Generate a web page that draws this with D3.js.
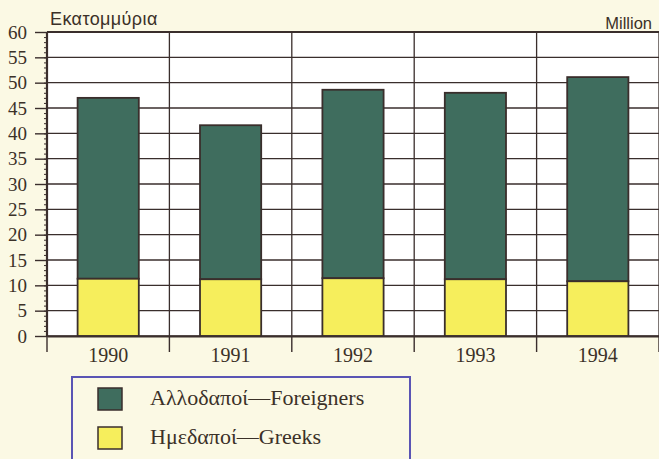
<!DOCTYPE html>
<html>
<head>
<meta charset="utf-8">
<script src="https://cdn.jsdelivr.net/npm/d3@7"></script>
<style>
  body { margin: 0; background: #fbf9e4; }
  svg { display: block; }
</style>
</head>
<body>
<script>
// data
var years = ["1990", "1991", "1992", "1993", "1994"];
var greeks = [11.3, 11.2, 11.4, 11.2, 10.8];
var foreigners = [35.7, 30.4, 37.2, 36.8, 40.3];
var yTicks = [0, 5, 10, 15, 20, 25, 30, 35, 40, 45, 50, 55, 60];
var legendLabels = ["Αλλοδαποί—Foreigners", "Ημεδαποί—Greeks"];

var W = 659, H = 459;
var pl = 47, pr = 659, pt = 32, pb = 336;
var green = "#3f6d5e", yellow = "#f6ee5c", ink = "#3a2e2c";
var serif = "'Liberation Serif', 'DejaVu Serif', serif";
var sans = "'Liberation Sans', Arial, sans-serif";

var svg = d3.select("body").append("svg")
    .attr("width", W).attr("height", H);

svg.append("rect").attr("width", W).attr("height", H).attr("fill", "#fbf9e4");

var x = d3.scaleBand().domain(years).range([pl, pr]).paddingInner(0).paddingOuter(0);
var y = d3.scaleLinear().domain([0, 60]).range([pb, pt]);

// plot background
svg.append("rect")
    .attr("x", pl).attr("y", pt)
    .attr("width", pr - pl).attr("height", pb - pt)
    .attr("fill", "#ffffff");

// horizontal gridlines
svg.selectAll(".hgrid").data(yTicks).enter().append("line")
    .attr("x1", pl).attr("x2", pr)
    .attr("y1", function (d) { return y(d); })
    .attr("y2", function (d) { return y(d); })
    .attr("stroke", ink).attr("stroke-width", 1.3);

// vertical gridlines at band boundaries
var bounds = years.map(function (d) { return x(d); }).concat([pr]);
svg.selectAll(".vgrid").data(bounds).enter().append("line")
    .attr("x1", function (d) { return d; }).attr("x2", function (d) { return d; })
    .attr("y1", pt).attr("y2", pb)
    .attr("stroke", ink).attr("stroke-width", 1.3);

// bars
var bw = x.bandwidth() * 0.5;
var stacks = years.map(function (d, i) {
    return { year: d, g: greeks[i], f: foreigners[i] };
});
var bars = svg.selectAll(".bar").data(stacks).enter().append("g");
bars.append("rect")
    .attr("x", function (d) { return x(d.year) + (x.bandwidth() - bw) / 2; })
    .attr("width", bw)
    .attr("y", function (d) { return y(d.g + d.f); })
    .attr("height", function (d) { return y(d.g) - y(d.g + d.f); })
    .attr("fill", green).attr("stroke", ink).attr("stroke-width", 1.8);
bars.append("rect")
    .attr("x", function (d) { return x(d.year) + (x.bandwidth() - bw) / 2; })
    .attr("width", bw)
    .attr("y", function (d) { return y(d.g); })
    .attr("height", function (d) { return y(0) - y(d.g); })
    .attr("fill", yellow).attr("stroke", ink).attr("stroke-width", 1.8);

// frame top and left
svg.append("line").attr("x1", pl).attr("x2", pr).attr("y1", pt).attr("y2", pt)
    .attr("stroke", ink).attr("stroke-width", 2.2);
svg.append("line").attr("x1", pl).attr("x2", pl).attr("y1", pt).attr("y2", pb)
    .attr("stroke", ink).attr("stroke-width", 2.2);

// y axis: minor ticks every unit, majors every 5
var yMinor = svg.append("g").attr("transform", "translate(" + pl + ",0)")
    .call(d3.axisLeft(y).tickValues(d3.range(0, 61, 1)).tickSize(3).tickFormat(""));
yMinor.select(".domain").remove();
yMinor.selectAll("line").attr("stroke", ink).attr("stroke-width", 1);
var yMajor = svg.append("g").attr("transform", "translate(" + pl + ",0)")
    .call(d3.axisLeft(y).tickValues(yTicks).tickSize(12).tickPadding(8));
yMajor.select(".domain").remove();
yMajor.selectAll("line").attr("stroke", ink).attr("stroke-width", 1.4);
yMajor.selectAll("text")
    .attr("font-family", serif)
    .attr("font-size", 19).attr("fill", "#3b3128");

// x axis
var xAxis = svg.append("g").attr("transform", "translate(0," + pb + ")")
    .call(d3.axisBottom(x).tickSize(0).tickPadding(12));
xAxis.select(".domain").attr("stroke", ink).attr("stroke-width", 2.2);
xAxis.selectAll("text")
    .attr("font-family", serif)
    .attr("font-size", 20).attr("fill", "#3b3128");
svg.selectAll(".xtick").data(bounds).enter().append("line")
    .attr("x1", function (d) { return d; }).attr("x2", function (d) { return d; })
    .attr("y1", pb).attr("y2", pb + 16)
    .attr("stroke", ink).attr("stroke-width", 1.4);

// unit labels
svg.append("text").attr("x", 50).attr("y", 25)
    .attr("font-family", sans)
    .attr("font-size", 18).attr("letter-spacing", 0.4).attr("fill", "#3b3128")
    .text("Εκατομμύρια");
svg.append("text").attr("x", 652).attr("y", 29).attr("text-anchor", "end")
    .attr("font-family", sans)
    .attr("font-size", 16.5).attr("fill", "#3b3128")
    .text("Million");

// legend
svg.append("rect")
    .attr("x", 72).attr("y", 377).attr("width", 338).attr("height", 100)
    .attr("fill", "#fbf9e4").attr("stroke", "#5a55b4").attr("stroke-width", 2);
var legendColors = [green, yellow];
var leg = svg.selectAll(".legend").data(legendLabels).enter().append("g")
    .attr("transform", function (d, i) { return "translate(98," + (388 + i * 39) + ")"; });
leg.append("rect")
    .attr("width", 24).attr("height", 22)
    .attr("fill", function (d, i) { return legendColors[i]; })
    .attr("stroke", ink).attr("stroke-width", 1.5);
leg.append("text")
    .attr("x", 52).attr("y", 17)
    .attr("font-family", serif)
    .attr("font-size", 22).attr("fill", "#3b3128")
    .text(function (d) { return d; });
</script>
</body>
</html>
